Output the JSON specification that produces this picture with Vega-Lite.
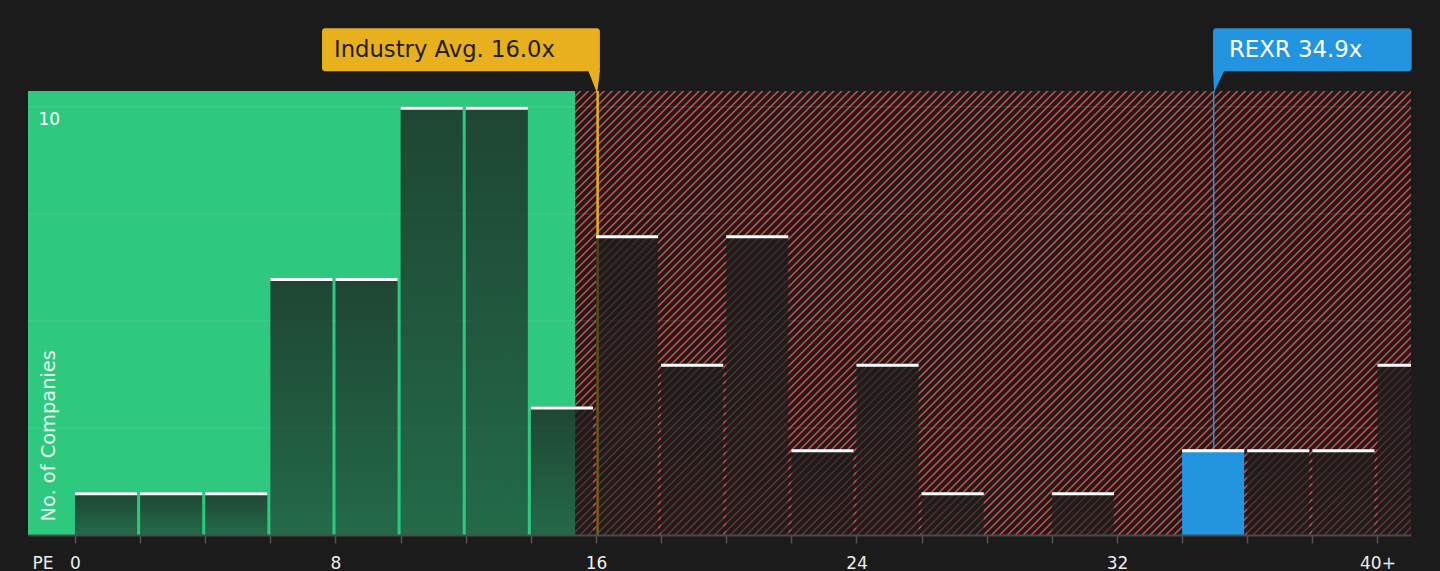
{
  "$schema": "https://vega.github.io/schema/vega-lite/v6.json",
  "width": 1383,
  "height": 444,
  "autosize": "none",
  "padding": {"left": 28, "top": 91, "right": 29, "bottom": 36},
  "background": "#1b1b1b",
  "config": {"view": {"stroke": null}, "font": "DejaVu Sans"},
  "data": {
    "values": [
      {"lo": 0, "hi": 2, "count": 1},
      {"lo": 2, "hi": 4, "count": 1},
      {"lo": 4, "hi": 6, "count": 1},
      {"lo": 6, "hi": 8, "count": 6},
      {"lo": 8, "hi": 10, "count": 6},
      {"lo": 10, "hi": 12, "count": 10},
      {"lo": 12, "hi": 14, "count": 10},
      {"lo": 14, "hi": 16, "count": 3},
      {"lo": 16, "hi": 18, "count": 7},
      {"lo": 18, "hi": 20, "count": 4},
      {"lo": 20, "hi": 22, "count": 7},
      {"lo": 22, "hi": 24, "count": 2},
      {"lo": 24, "hi": 26, "count": 4},
      {"lo": 26, "hi": 28, "count": 1},
      {"lo": 30, "hi": 32, "count": 1},
      {"lo": 34, "hi": 36, "count": 2},
      {"lo": 36, "hi": 38, "count": 2},
      {"lo": 38, "hi": 40, "count": 2},
      {"lo": 40, "hi": 42, "count": 4}
    ]
  },
  "layer": [
    {
      "data": {"values": [{}]},
      "mark": {"type": "rect", "fill": "#1e1b1b", "clip": true},
      "encoding": {
        "x": {"datum": 15.36, "scale": {"domain": [-1.443, 41.03], "nice": false, "zero": false, "padding": 0}},
        "x2": {"datum": 45},
        "y": {"datum": 0, "scale": {"domain": [0, 10.37], "nice": false, "padding": 0}},
        "y2": {"datum": 12}
      }
    },
    {
      "data": {"values": [{}]},
      "mark": {"type": "rule", "stroke": "#c94a4a", "strokeWidth": 1000, "strokeDash": [1.6, 4.0], "strokeCap": "butt", "clip": true},
      "encoding": {
        "x": {"datum": 12.22},
        "x2": {"datum": 44.16},
        "y": {"datum": 17.32},
        "y2": {"datum": -6.96}
      }
    },
    {
      "data": {"values": [{}]},
      "mark": {"type": "rect", "fill": "#2ec87f", "clip": true},
      "encoding": {
        "x": {"datum": -3},
        "x2": {"datum": 15.36},
        "y": {"datum": 0},
        "y2": {"datum": 12}
      }
    },
    {
      "data": {"values": [{"g": 2.5}, {"g": 5}, {"g": 7.5}, {"g": 10}]},
      "mark": {"type": "rule", "stroke": "#ffffff", "strokeOpacity": 0.12, "strokeWidth": 1},
      "encoding": {
        "y": {"field": "g", "type": "quantitative", "title": "No. of Companies"}
      }
    },
    {
      "data": {"values": [{}]},
      "mark": {"type": "rule", "stroke": "#e8b01c", "strokeWidth": 2.5},
      "encoding": {
        "x": {"datum": 16.05},
        "y": {"datum": 0},
        "y2": {"datum": 10.37}
      }
    },
    {
      "data": {"values": [{}]},
      "mark": {"type": "rule", "stroke": "#2394df", "strokeWidth": 1.5},
      "encoding": {
        "x": {"datum": 34.97},
        "y": {"datum": 2},
        "y2": {"datum": 10.37}
      }
    },
    {
      "mark": {"type": "rect", "x2Offset": -3, "clip": true},
      "encoding": {
        "x": {
          "field": "lo",
          "type": "quantitative",
          "title": "PE",
          "axis": {
            "values": [0, 2, 4, 6, 8, 10, 12, 14, 16, 18, 20, 22, 24, 26, 28, 30, 32, 34, 36, 38, 40],
            "labelExpr": "datum.value % 8 == 0 ? (datum.value == 40 ? '40+' : datum.label) : ''",
            "grid": false,
            "zindex": 1,
            "domainColor": "#4a4a4a",
            "domainWidth": 2,
            "tickColor": "#555555",
            "tickSize": 8,
            "tickWidth": 1.5,
            "labelColor": "#eeeeee",
            "labelFontSize": 17,
            "labelPadding": 12,
            "labelFlush": false,
            "labelOverlap": false,
            "titleX": 4,
            "titleY": 20,
            "titleAnchor": "start",
            "titleAlign": "left",
            "titleBaseline": "top",
            "titleColor": "#eeeeee",
            "titleFontSize": 17,
            "titleFontWeight": "normal"
          }
        },
        "x2": {"field": "hi"},
        "y": {
          "field": "count",
          "type": "quantitative",
          "title": "No. of Companies",
          "axis": {
            "values": [10],
            "zindex": 1,
            "domain": false,
            "ticks": false,
            "tickSize": 0,
            "grid": false,
            "labelAlign": "left",
            "labelPadding": -10,
            "labelBaseline": "top",
            "labelOffset": 5,
            "labelColor": "#ffffff",
            "labelFontSize": 17,
            "titleAngle": 270,
            "titleX": 20,
            "titleY": 430,
            "titleAlign": "left",
            "titleBaseline": "middle",
            "titleColor": "#e6f5ee",
            "titleFontSize": 19.4,
            "titleFontWeight": "normal"
          }
        },
        "y2": {"datum": 0},
        "color": {
          "condition": {"test": "datum.lo == 34", "value": "#2394df"},
          "value": {
            "gradient": "linear",
            "x1": 0, "y1": 0, "x2": 0, "y2": 1,
            "stops": [
              {"offset": 0, "color": "rgba(26,29,28,0.76)"},
              {"offset": 1, "color": "rgba(26,29,28,0.55)"}
            ]
          }
        }
      }
    },
    {
      "mark": {"type": "rule", "stroke": "#ffffff", "strokeWidth": 3, "x2Offset": -3, "yOffset": 1.5, "clip": true},
      "encoding": {
        "x": {"field": "lo", "type": "quantitative", "title": "PE"},
        "x2": {"field": "hi"},
        "y": {"field": "count", "type": "quantitative", "title": "No. of Companies"}
      }
    },
    {
      "data": {"values": [{}]},
      "mark": {"type": "rect", "fill": "#e8b01c", "cornerRadius": 3},
      "encoding": {
        "x": {"datum": 7.586},
        "x2": {"datum": 16.12},
        "y": {"datum": 10.833},
        "y2": {"datum": 11.837}
      }
    },
    {
      "data": {"values": [{}]},
      "mark": {"type": "point", "filled": true, "fill": "#e8b01c", "opacity": 1, "size": 484, "shape": "M-0.55,-1.1L0.55,-1.1L0.28,1Z"},
      "encoding": {
        "x": {"datum": 15.94},
        "y": {"datum": 10.577}
      }
    },
    {
      "data": {"values": [{}]},
      "mark": {"type": "text", "text": "Industry Avg. 16.0x", "align": "left", "baseline": "middle", "fontSize": 22.7, "fill": "#1e1e1e"},
      "encoding": {
        "x": {"datum": 7.955},
        "y": {"datum": 11.336}
      }
    },
    {
      "data": {"values": [{}]},
      "mark": {"type": "rect", "fill": "#2394df", "cornerRadius": 3},
      "encoding": {
        "x": {"datum": 34.95},
        "x2": {"datum": 41.05},
        "y": {"datum": 10.833},
        "y2": {"datum": 11.837}
      }
    },
    {
      "data": {"values": [{}]},
      "mark": {"type": "point", "filled": true, "fill": "#2394df", "opacity": 1, "size": 484, "shape": "M-0.55,-1.1L0.55,-1.1L-0.45,1Z"},
      "encoding": {
        "x": {"datum": 35.135},
        "y": {"datum": 10.6}
      }
    },
    {
      "data": {"values": [{}]},
      "mark": {"type": "text", "text": "REXR 34.9x", "align": "left", "baseline": "middle", "fontSize": 22.8, "fill": "#ffffff"},
      "encoding": {
        "x": {"datum": 35.44},
        "y": {"datum": 11.336}
      }
    }
  ]
}
